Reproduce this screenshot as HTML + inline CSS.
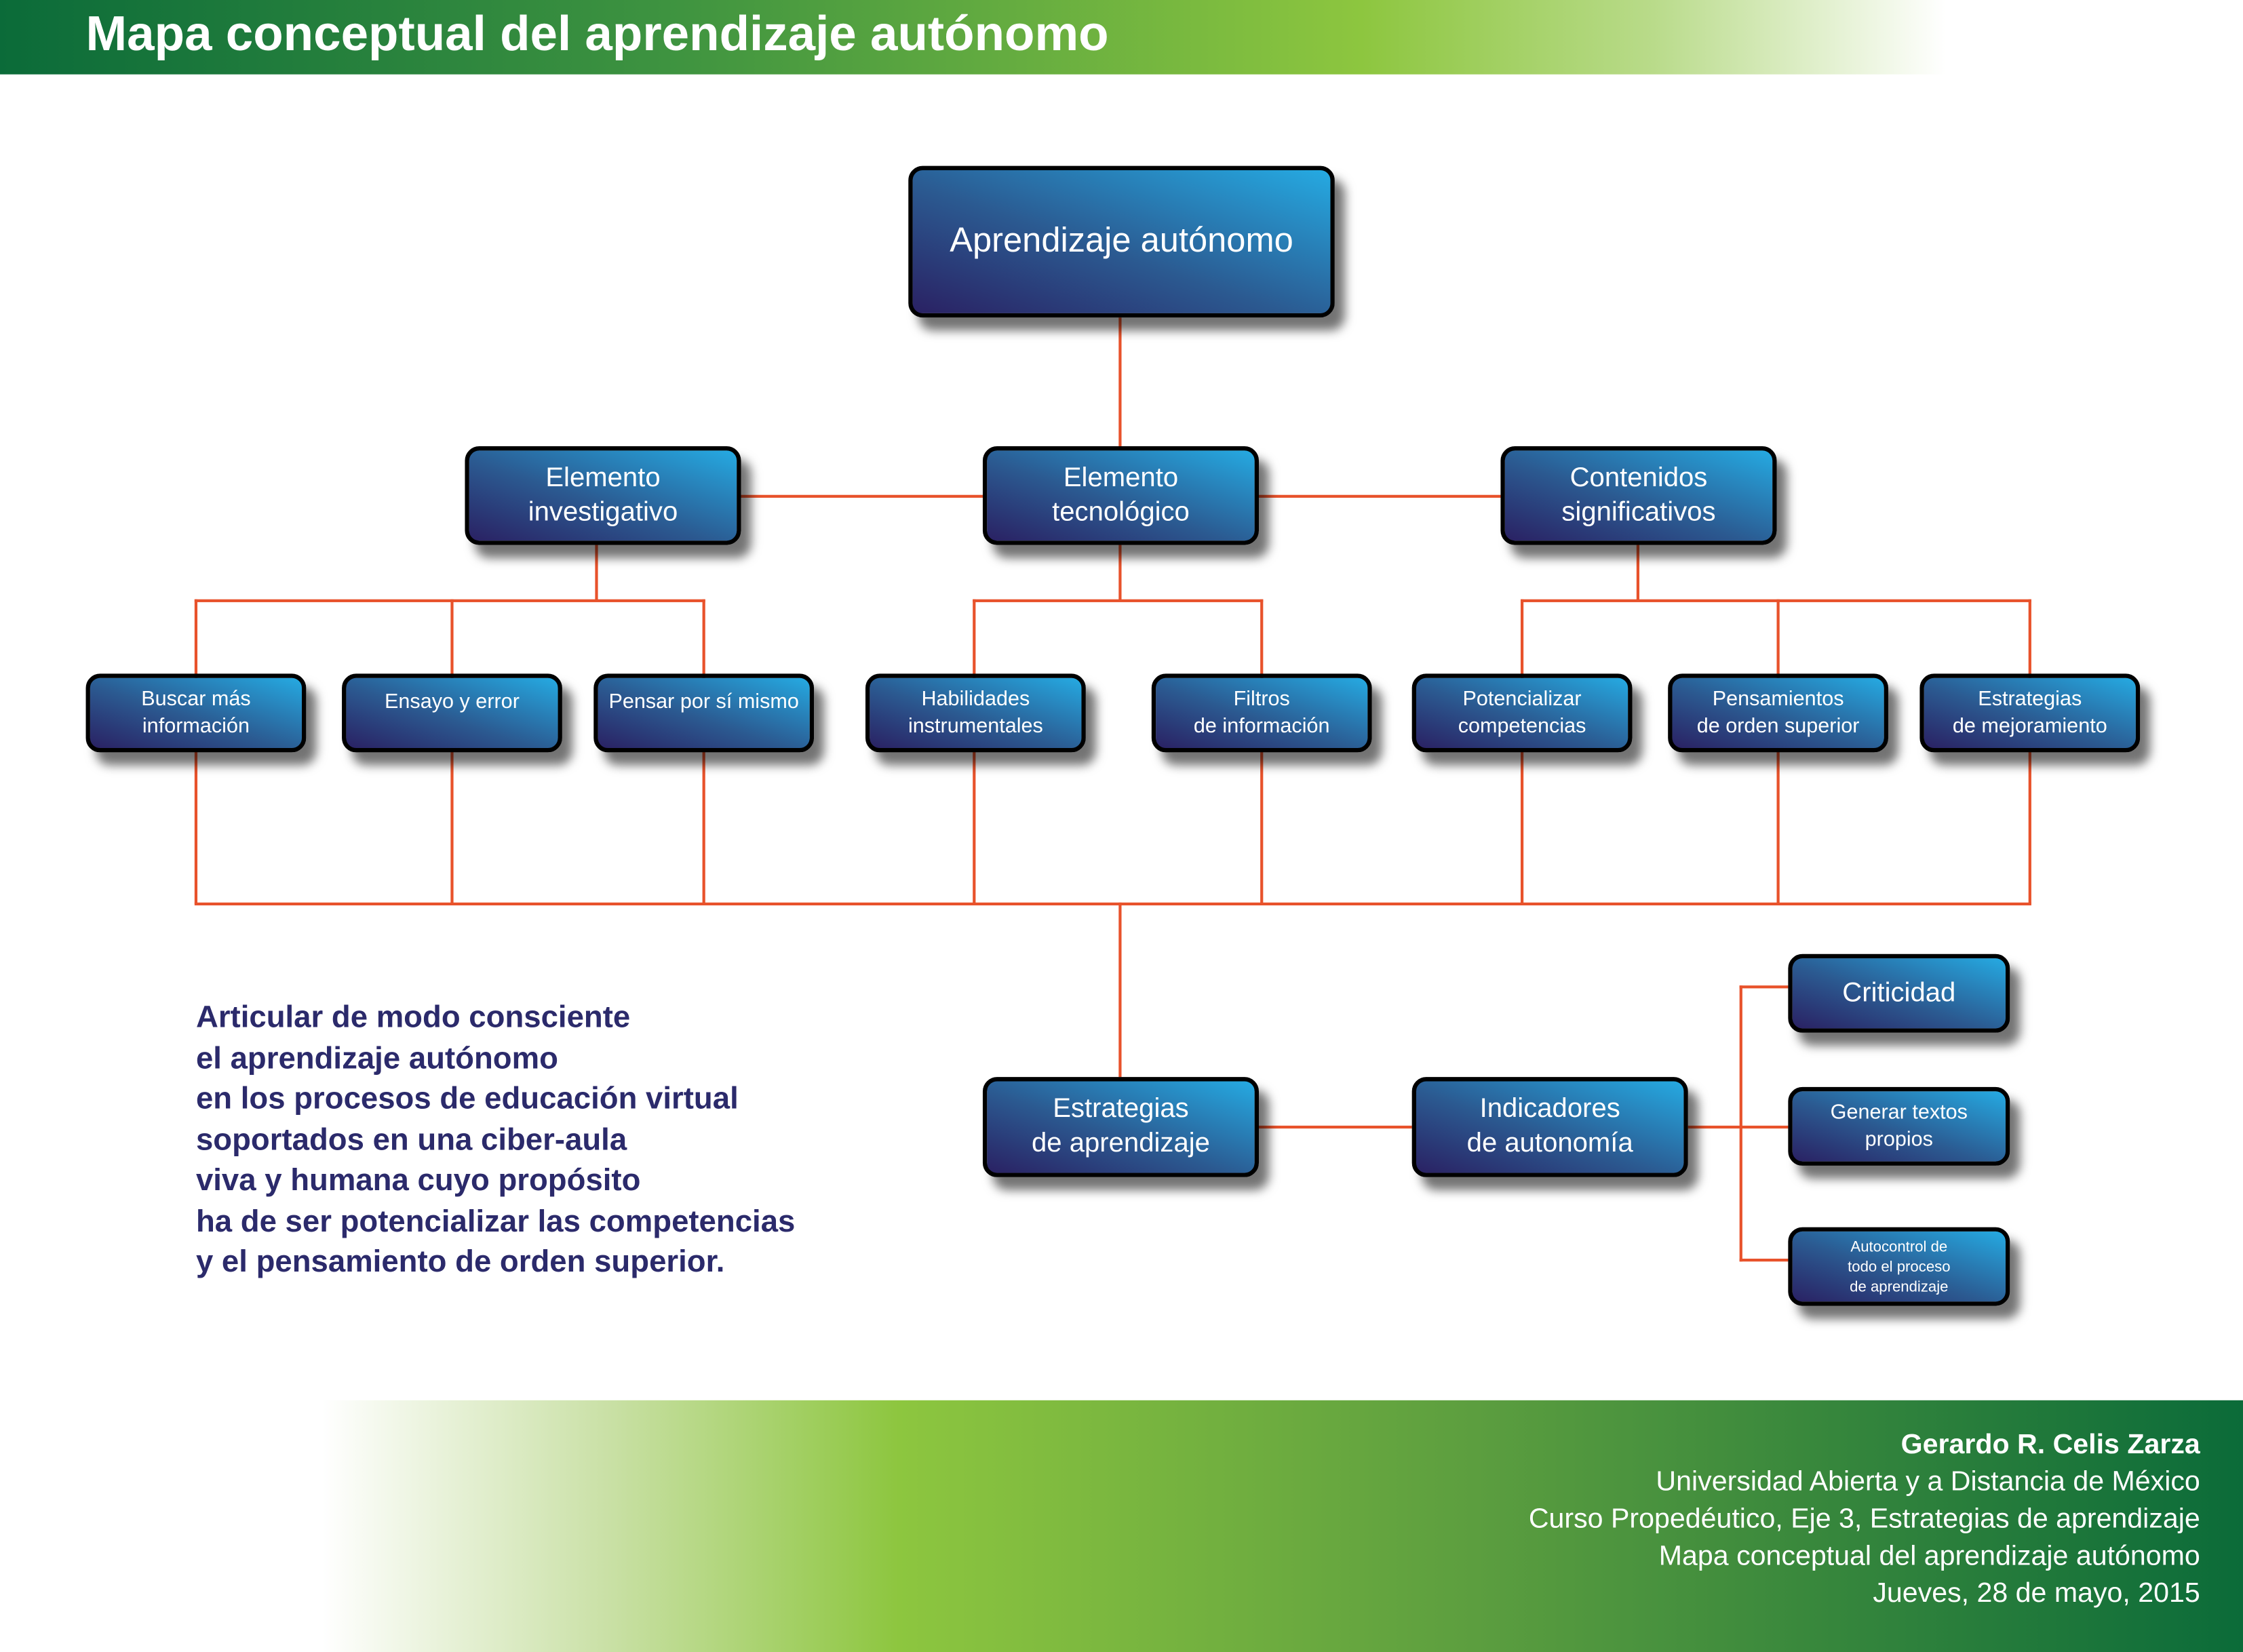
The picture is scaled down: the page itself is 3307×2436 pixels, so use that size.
<!DOCTYPE html>
<html><head><meta charset="utf-8"><style>
html,body{margin:0;padding:0;background:#fff;}
body{width:3307px;height:2435px;overflow:hidden;position:relative;}
#c{position:absolute;left:0;top:0;width:1568px;height:1155px;transform:scale(2.1091);transform-origin:0 0;font-family:"Liberation Sans",sans-serif;}
.hdr{position:absolute;left:0;top:0;width:1360px;height:52px;background:linear-gradient(to right,#0b6b39 0%,#3f9440 35%,#8dc63f 70%,#b9db8a 85%,rgba(255,255,255,1) 100%);}
.hdr span{position:absolute;left:60px;top:5px;color:#fff;font-weight:bold;font-size:34.5px;}
.ftr{position:absolute;left:225px;top:979px;width:1343px;height:176px;background:linear-gradient(to right,#fff 0%,#c9e0a5 15%,#8dc63f 30%,#5c9e3f 60%,#0b6b39 100%);}
.ft{position:absolute;right:30px;top:18px;text-align:right;color:#fff;font-size:19.5px;line-height:26px;}
.b{position:absolute;box-sizing:border-box;border:3px solid #000;border-radius:10px;background:linear-gradient(to top right,#2a2163 0%,#2b5a91 45%,#25aae2 100%);box-shadow:7px 9px 7px rgba(0,0,0,.55);color:#fff;display:flex;align-items:center;justify-content:center;text-align:center;}
.l{position:absolute;background:#e8522b;}
.h{height:2px;}.v{width:2px;}
.s{font-size:14.5px;line-height:19px;}
.m{font-size:19px;line-height:24px;}
.txt{position:absolute;left:137px;top:697px;color:#2b2a6b;font-weight:bold;font-size:21.6px;line-height:28.5px;}
</style></head><body><div id="c">
<div class="hdr"><span>Mapa conceptual del aprendizaje autónomo</span></div>

<div class="l v" style="left:782px;top:222px;height:90px"></div>
<div class="l h" style="left:518px;top:346px;width:169px"></div>
<div class="l h" style="left:880px;top:346px;width:169px"></div>
<div class="l v" style="left:416px;top:381px;height:39px"></div>
<div class="l v" style="left:782px;top:381px;height:39px"></div>
<div class="l v" style="left:1144px;top:381px;height:39px"></div>
<div class="l h" style="left:136px;top:419px;width:357px"></div>
<div class="l h" style="left:680px;top:419px;width:203px"></div>
<div class="l h" style="left:1063px;top:419px;width:357px"></div>
<div class="l v" style="left:136px;top:419px;height:213px"></div>
<div class="l v" style="left:315px;top:419px;height:213px"></div>
<div class="l v" style="left:491px;top:419px;height:213px"></div>
<div class="l v" style="left:680px;top:419px;height:213px"></div>
<div class="l v" style="left:881px;top:419px;height:213px"></div>
<div class="l v" style="left:1063px;top:419px;height:213px"></div>
<div class="l v" style="left:1242px;top:419px;height:213px"></div>
<div class="l v" style="left:1418px;top:419px;height:213px"></div>
<div class="l h" style="left:136px;top:631px;width:1284px"></div>
<div class="l v" style="left:782px;top:631px;height:122px"></div>
<div class="l h" style="left:880px;top:787px;width:107px"></div>
<div class="l h" style="left:1180px;top:787px;width:70px"></div>
<div class="l v" style="left:1216px;top:689px;height:193px"></div>
<div class="l h" style="left:1216px;top:689px;width:34px"></div>
<div class="l h" style="left:1216px;top:880px;width:34px"></div>

<div class="b" style="left:635px;top:116px;width:298px;height:106px;font-size:24px">Aprendizaje autónomo</div>
<div class="b m" style="left:325px;top:312px;width:193px;height:69px">Elemento<br>investigativo</div>
<div class="b m" style="left:687px;top:312px;width:193px;height:69px">Elemento<br>tecnológico</div>
<div class="b m" style="left:1049px;top:312px;width:193px;height:69px">Contenidos<br>significativos</div>

<div class="b s" style="left:60px;top:471px;width:154px;height:55px">Buscar más<br>información</div>
<div class="b s" style="left:239px;top:471px;width:154px;height:55px;align-items:flex-start;padding-top:8px">Ensayo y error</div>
<div class="b s" style="left:415px;top:471px;width:154px;height:55px;align-items:flex-start;padding-top:8px">Pensar por sí mismo</div>
<div class="b s" style="left:605px;top:471px;width:154px;height:55px">Habilidades<br>instrumentales</div>
<div class="b s" style="left:805px;top:471px;width:154px;height:55px">Filtros<br>de información</div>
<div class="b s" style="left:987px;top:471px;width:154px;height:55px">Potencializar<br>competencias</div>
<div class="b s" style="left:1166px;top:471px;width:154px;height:55px">Pensamientos<br>de orden superior</div>
<div class="b s" style="left:1342px;top:471px;width:154px;height:55px">Estrategias<br>de mejoramiento</div>

<div class="b m" style="left:687px;top:753px;width:193px;height:70px">Estrategias<br>de aprendizaje</div>
<div class="b m" style="left:987px;top:753px;width:193px;height:70px">Indicadores<br>de autonomía</div>

<div class="b" style="left:1250px;top:667px;width:155px;height:55px;font-size:19px">Criticidad</div>
<div class="b s" style="left:1250px;top:760px;width:155px;height:55px">Generar textos<br>propios</div>
<div class="b" style="left:1250px;top:858px;width:155px;height:55px;font-size:10.5px;line-height:14px">Autocontrol de<br>todo el proceso<br>de aprendizaje</div>

<div class="txt">Articular de modo consciente<br>el aprendizaje autónomo<br>en los procesos de educación virtual<br>soportados en una ciber-aula<br>viva y humana cuyo propósito<br>ha de ser potencializar las competencias<br>y el pensamiento de orden superior.</div>

<div class="ftr"><div class="ft"><b>Gerardo R. Celis Zarza</b><br>Universidad Abierta y a Distancia de México<br>Curso Propedéutico, Eje 3, Estrategias de aprendizaje<br>Mapa conceptual del aprendizaje autónomo<br>Jueves, 28 de mayo, 2015</div></div>
</div></body></html>
